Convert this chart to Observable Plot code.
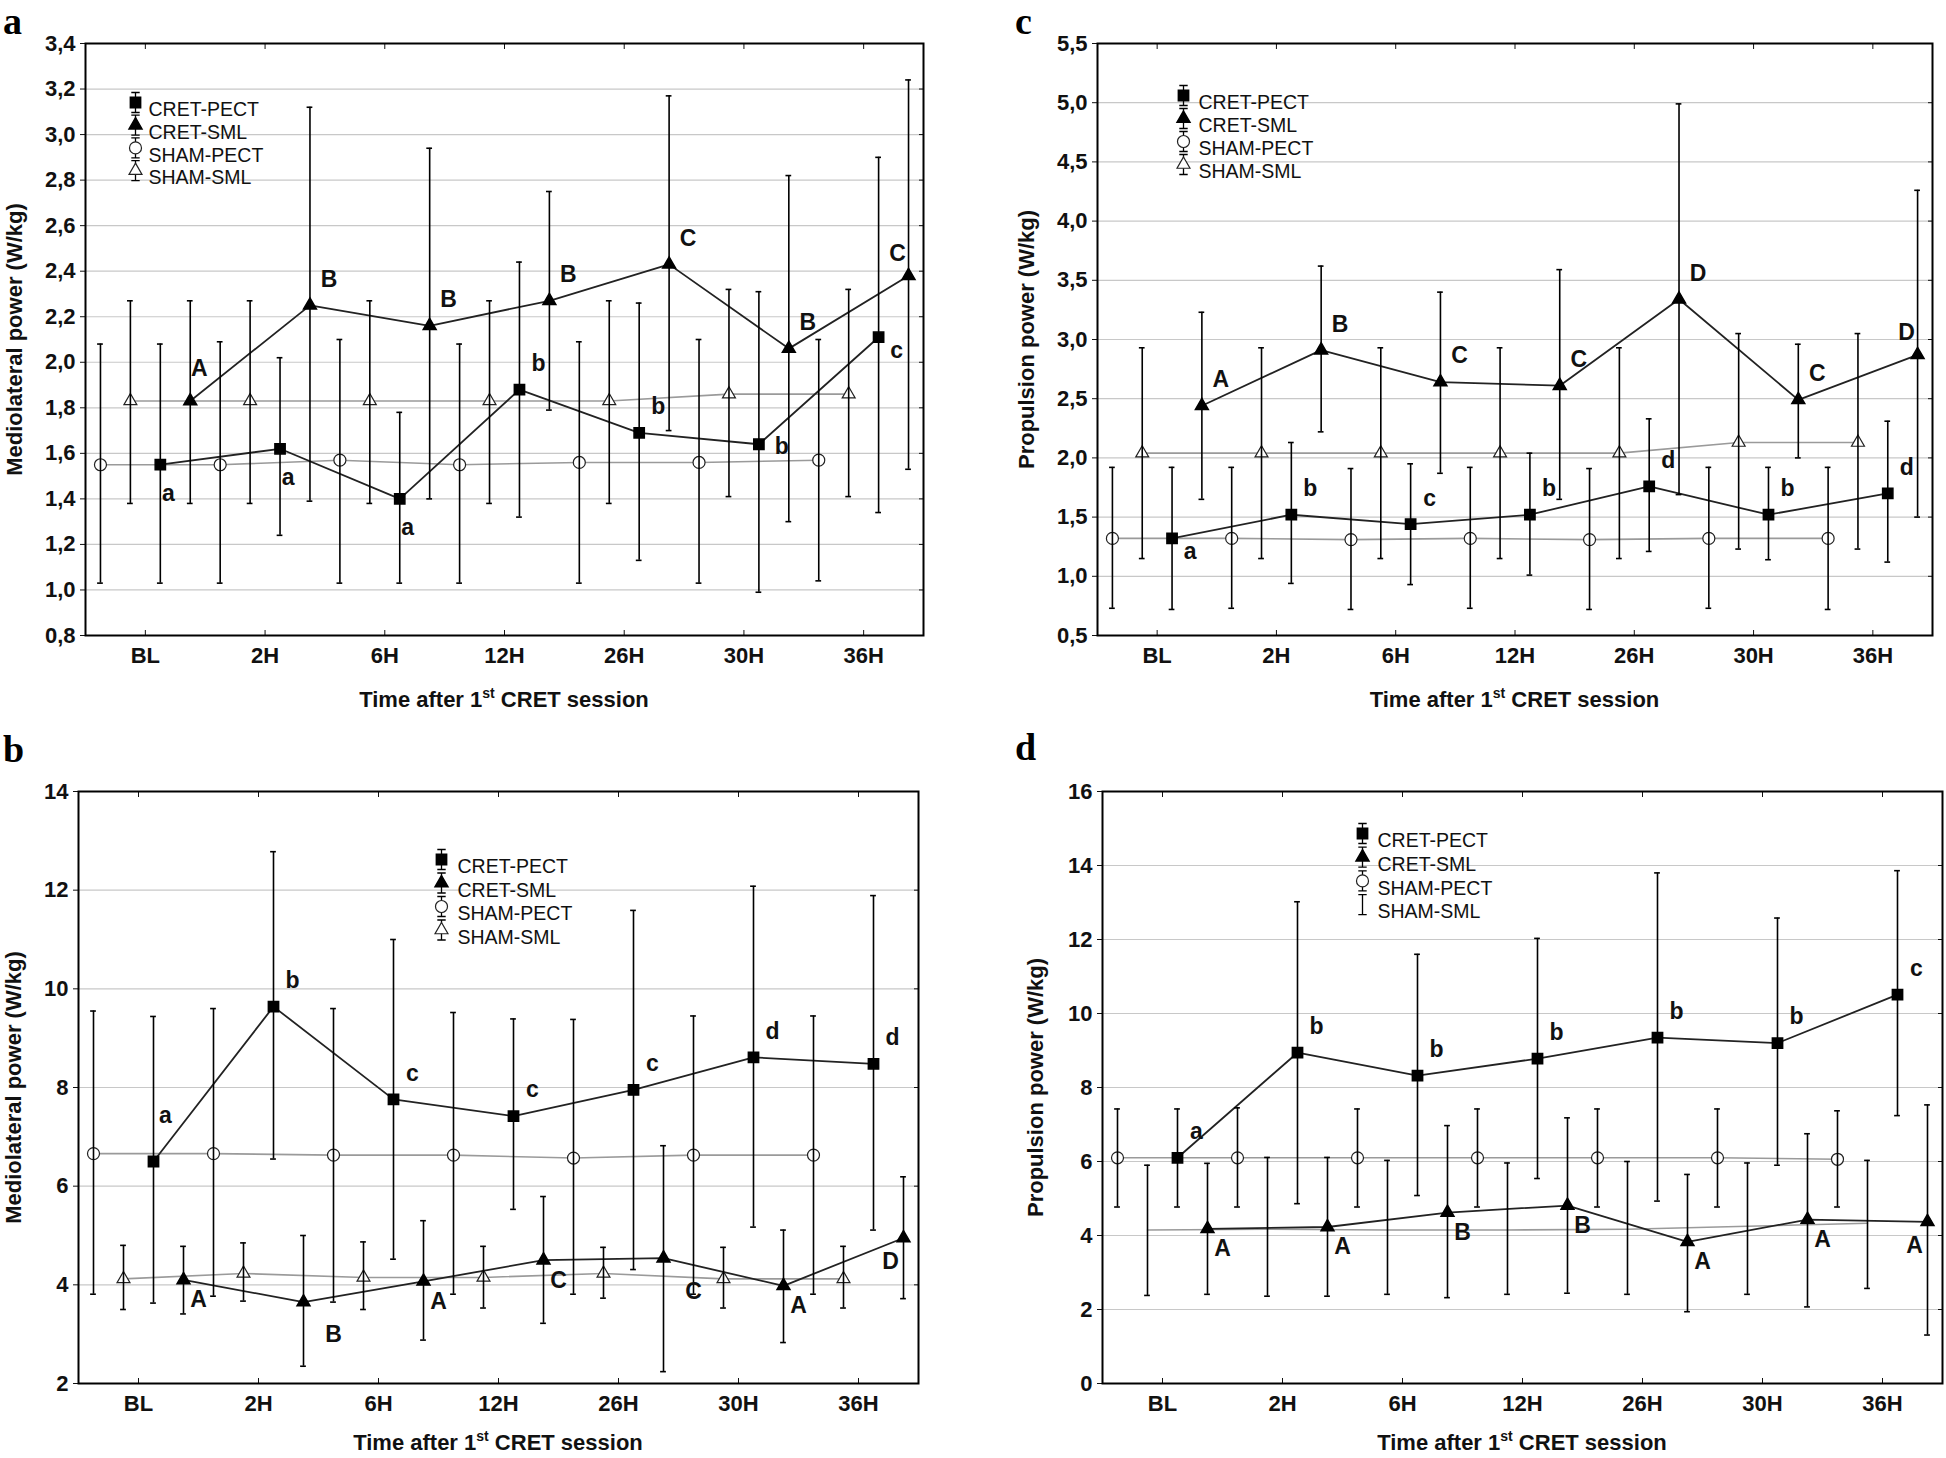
<!DOCTYPE html>
<html><head><meta charset="utf-8">
<script src="https://cdn.jsdelivr.net/npm/d3@7"></script>
<script src="https://cdn.jsdelivr.net/npm/@observablehq/plot@0.6"></script>
<style>
body{margin:0;background:#fff}
#fig{position:relative;width:1946px;height:1458px;overflow:hidden;background:#fff}
.panel{position:absolute}
</style>
</head><body><div id="fig"></div>
<script>
// ---------- categories ----------
const times = ["BL","2H","6H","12H","26H","30H","36H"];
const groups = ["SHAM-PECT","SHAM-SML","CRET-PECT","CRET-SML"];
const legendOrder = ["CRET-PECT","CRET-SML","SHAM-PECT","SHAM-SML"];

// ---------- panel a : Mediolateral power (W/kg) ----------
const aTicks = [0.8,1.0,1.2,1.4,1.6,1.8,2.0,2.2,2.4,2.6,2.8,3.0,3.2,3.4];
const aShamPect = [1.55,1.55,1.57,1.55,1.56,1.56,1.57];
const aShamPectHi = [2.08,2.09,2.10,2.08,2.09,2.10,2.10];
const aShamPectLo = [1.03,1.03,1.03,1.03,1.03,1.03,1.04];
const aShamSml = [1.83,1.83,1.83,1.83,1.83,1.86,1.86];
const aShamSmlHi = [2.27,2.27,2.27,2.27,2.27,2.32,2.32];
const aShamSmlLo = [1.38,1.38,1.38,1.38,1.38,1.41,1.41];
const aCretPect = [1.55,1.62,1.40,1.88,1.69,1.64,2.11];
const aCretPectHi = [2.08,2.02,1.78,2.44,2.26,2.31,2.90];
const aCretPectLo = [1.03,1.24,1.03,1.32,1.13,0.99,1.34];
const aCretSml = [1.83,2.25,2.16,2.27,2.43,2.06,2.38];
const aCretSmlHi = [2.27,3.12,2.94,2.75,3.17,2.82,3.24];
const aCretSmlLo = [1.38,1.39,1.40,1.79,1.70,1.30,1.53];
const aUpper = ["A","B","B","B","C","B","C"];
const aUpperPos = ["n","ne","ne","ne","ne","ne","nw"];
const aLower = ["a","a","a","b","b","b","c"];
const aLowerPos = ["s","s","s","ne","ne","e","ese"];

// ---------- panel c : Propulsion power (W/kg) ----------
const cTicks = [0.5,1.0,1.5,2.0,2.5,3.0,3.5,4.0,4.5,5.0,5.5];
const cShamPect = [1.32,1.32,1.31,1.32,1.31,1.32,1.32];
const cShamPectHi = [1.92,1.92,1.91,1.92,1.91,1.92,1.92];
const cShamPectLo = [0.73,0.73,0.72,0.73,0.72,0.73,0.72];
const cShamSml = [2.04,2.04,2.04,2.04,2.04,2.13,2.13];
const cShamSmlHi = [2.93,2.93,2.93,2.93,2.93,3.05,3.05];
const cShamSmlLo = [1.15,1.15,1.15,1.15,1.15,1.23,1.23];
const cCretPect = [1.32,1.52,1.44,1.52,1.76,1.52,1.70];
const cCretPectHi = [1.92,2.13,1.95,2.04,2.33,1.92,2.31];
const cCretPectLo = [0.72,0.94,0.93,1.01,1.21,1.14,1.12];
const cCretSml = [2.44,2.91,2.64,2.61,3.34,2.49,2.87];
const cCretSmlHi = [3.23,3.62,3.40,3.59,4.99,2.96,4.26];
const cCretSmlLo = [1.65,2.22,1.87,1.65,1.69,2.00,1.50];
const cUpper = ["A","B","C","C","D","C","D"];
const cUpperPos = ["ne","ne","ne","ne","ne","ne","nw"];
const cLower = ["a","b","c","b","d","b","d"];
const cLowerPos = ["ese","ne","ne","ne","ne","ne","ne"];

// ---------- panel b : Mediolateral power (W/kg) ----------
const bTicks = [2,4,6,8,10,12,14];
const bShamPect = [6.66,6.66,6.63,6.63,6.57,6.63,6.63];
const bShamPectHi = [9.55,9.60,9.60,9.52,9.38,9.45,9.45];
const bShamPectLo = [3.81,3.77,3.65,3.81,3.81,3.81,3.81];
const bShamSml = [4.12,4.23,4.15,4.15,4.23,4.12,4.12];
const bShamSmlHi = [4.80,4.85,4.87,4.78,4.76,4.76,4.78];
const bShamSmlLo = [3.50,3.67,3.50,3.53,3.73,3.53,3.53];
const bCretPect = [6.50,9.64,7.76,7.42,7.95,8.61,8.48];
const bCretPectHi = [9.44,12.78,11.00,9.39,11.59,12.08,11.89];
const bCretPectLo = [3.63,6.55,4.52,5.53,4.31,5.17,5.11];
const bCretSml = [4.10,3.65,4.07,4.50,4.54,3.98,4.95];
const bCretSmlHi = [4.78,5.00,5.30,5.79,6.82,5.11,6.19];
const bCretSmlLo = [3.41,2.35,2.88,3.22,2.24,2.83,3.72];
const bUpper = ["A","B","A","C","C","A","D"];
const bUpperPos = ["se","sse","se","se","sse","se","sw"];
const bLower = ["a","b","c","c","c","d","d"];
const bLowerPos = ["nn","ne","ne","ne","ne","ne","ne"];

// ---------- panel d : Propulsion power (W/kg) ----------
const dTicks = [0,2,4,6,8,10,12,14,16];
const dShamPect = [6.10,6.10,6.10,6.10,6.10,6.10,6.06];
const dShamPectHi = [7.42,7.45,7.42,7.42,7.42,7.42,7.37];
const dShamPectLo = [4.77,4.77,4.77,4.77,4.77,4.77,4.77];
const dShamSml = [4.15,4.17,4.15,4.15,4.17,4.25,4.33];
const dShamSmlHi = [5.90,6.11,6.03,5.96,6.00,5.96,6.03];
const dShamSmlLo = [2.38,2.36,2.41,2.41,2.41,2.41,2.57];
const dCretPect = [6.10,8.94,8.32,8.78,9.35,9.20,10.51];
const dCretPectHi = [7.42,13.02,11.60,12.03,13.80,12.58,13.86];
const dCretPectLo = [4.77,4.86,5.08,5.54,4.93,5.90,7.24];
const dCretSml = [4.18,4.23,4.62,4.81,3.83,4.43,4.37];
const dCretSmlHi = [5.95,6.11,6.97,7.18,5.65,6.75,7.53];
const dCretSmlLo = [2.41,2.36,2.32,2.44,1.94,2.07,1.31];
const dUpper = ["A","A","B","B","A","A","A"];
const dUpperPos = ["se","se","se","se","se","se","sw"];
const dLower = ["a","b","b","b","b","b","c"];
const dLowerPos = ["ne","ne","ne","ne","ne","ne","ne"];

// ---------- styling / layout ----------
const FONT = '"Liberation Sans", Arial, Helvetica, sans-serif';
const SERIF = '"Liberation Serif", "Times New Roman", serif';
const OFFSET = {"SHAM-PECT": -0.375, "SHAM-SML": -0.125, "CRET-PECT": 0.125, "CRET-SML": 0.375};
const CAP = 0.024;
const POS = {n:[9,-32], ne:[19,-26], nw:[-11,-22], nn:[12,-46], s:[8,29], se:[15,20], sse:[30,33], sw:[-13,24], e:[23,2], ese:[18,13]};
const MARK = {
  "CRET-PECT": {symbol:"square", fill:"#000", stroke:"#000", r:5.8},
  "CRET-SML": {symbol:"triangle", fill:"#000", stroke:"#000", r:4.8},
  "SHAM-PECT": {symbol:"circle", fill:"#fff", stroke:"#222", strokeWidth:1.2, r:6},
  "SHAM-SML": {symbol:"triangle", fill:"#fff", stroke:"#222", strokeWidth:1.2, r:4.8}
};
const errSymbol = {draw(ctx, size) {
  const r = Math.sqrt(size / Math.PI), c = r * 0.42;
  ctx.moveTo(0, -r); ctx.lineTo(0, r);
  ctx.moveTo(-c, -r); ctx.lineTo(c, -r);
  ctx.moveTo(-c, r); ctx.lineTo(c, r);
}};
const comma1 = d => d.toFixed(1).replace(".", ",");
const intFmt = d => String(d);
const TXT = 22;

const panels = [
  {tag:"a", tagX:3, tagBase:34, left:0, top:0, W:973, H:729, ml:85, mr:50, mt:43, mb:94, titleDy:72,
   ticks:aTicks, fmt:comma1, ylabel:"Mediolateral power (W/kg)", labelOffset:79,
   data:{"SHAM-PECT":[aShamPect,aShamPectHi,aShamPectLo],"SHAM-SML":[aShamSml,aShamSmlHi,aShamSmlLo],
         "CRET-PECT":[aCretPect,aCretPectHi,aCretPectLo],"CRET-SML":[aCretSml,aCretSmlHi,aCretSmlLo]},
   upper:[aUpper,aUpperPos], lower:[aLower,aLowerPos], legend:{dx:50, dy:59, step:22.7, tdx:63}, noMarker:[]},
  {tag:"c", tagX:42, tagBase:34, left:973, top:0, W:973, H:729, ml:124, mr:14, mt:43, mb:94, titleDy:72,
   ticks:cTicks, fmt:comma1, ylabel:"Propulsion power (W/kg)", labelOffset:79,
   data:{"SHAM-PECT":[cShamPect,cShamPectHi,cShamPectLo],"SHAM-SML":[cShamSml,cShamSmlHi,cShamSmlLo],
         "CRET-PECT":[cCretPect,cCretPectHi,cCretPectLo],"CRET-SML":[cCretSml,cCretSmlHi,cCretSmlLo]},
   upper:[cUpper,cUpperPos], lower:[cLower,cLowerPos], legend:{dx:86, dy:52, step:23, tdx:101}, noMarker:[]},
  {tag:"b", tagX:3, tagBase:33, left:0, top:729, W:973, H:729, ml:78, mr:55, mt:62, mb:75, titleDy:67,
   ticks:bTicks, fmt:intFmt, ylabel:"Mediolateral power (W/kg)", labelOffset:73,
   data:{"SHAM-PECT":[bShamPect,bShamPectHi,bShamPectLo],"SHAM-SML":[bShamSml,bShamSmlHi,bShamSmlLo],
         "CRET-PECT":[bCretPect,bCretPectHi,bCretPectLo],"CRET-SML":[bCretSml,bCretSmlHi,bCretSmlLo]},
   upper:[bUpper,bUpperPos], lower:[bLower,bLowerPos], legend:{dx:363, dy:68, step:23.5, tdx:379}, noMarker:[]},
  {tag:"d", tagX:42, tagBase:31, left:973, top:729, W:973, H:729, ml:129, mr:4, mt:62, mb:75, titleDy:67,
   ticks:dTicks, fmt:intFmt, ylabel:"Propulsion power (W/kg)", labelOffset:75,
   data:{"SHAM-PECT":[dShamPect,dShamPectHi,dShamPectLo],"SHAM-SML":[dShamSml,dShamSmlHi,dShamSmlLo],
         "CRET-PECT":[dCretPect,dCretPectHi,dCretPectLo],"CRET-SML":[dCretSml,dCretSmlHi,dCretSmlLo]},
   upper:[dUpper,dUpperPos], lower:[dLower,dLowerPos], legend:{dx:260, dy:42, step:23.7, tdx:275}, noMarker:["SHAM-SML"]}
];

const fig = document.getElementById("fig");

function build(p) {
  const rows = groups.flatMap(g => {
    const [m, hi, lo] = p.data[g];
    return m.map((v, i) => ({group:g, i, x:i + OFFSET[g], mean:v, hi:hi[i], lo:lo[i]}));
  });
  const caps = rows.flatMap(r => [{x1:r.x - CAP, x2:r.x + CAP, y:r.hi}, {x1:r.x - CAP, x2:r.x + CAP, y:r.lo}]);
  const letterRows = [];
  const addLetters = ([txt, pos], g) => {
    const m = p.data[g][0];
    txt.forEach((t, i) => letterRows.push({x:i + OFFSET[g], y:m[i], text:t, pos:pos[i]}));
  };
  addLetters(p.upper, "CRET-SML");
  addLetters(p.lower, "CRET-PECT");

  const marks = [
    Plot.gridY(p.ticks, {stroke:"#c8c8c8", strokeOpacity:1, strokeWidth:1.2}),
    Plot.line(rows.filter(r => r.group.startsWith("SHAM")), {x:"x", y:"mean", z:"group", stroke:"#9a9a9a", strokeWidth:1.6}),
    Plot.line(rows.filter(r => r.group.startsWith("CRET")), {x:"x", y:"mean", z:"group", stroke:"#222", strokeWidth:1.8})
  ];
  for (const g of ["SHAM-PECT","SHAM-SML"]) {
    if (!p.noMarker.includes(g)) marks.push(Plot.dot(rows.filter(r => r.group === g), {x:"x", y:"mean", ...MARK[g]}));
  }
  marks.push(
    Plot.ruleX(rows, {x:"x", y1:"lo", y2:"hi", stroke:"#000", strokeWidth:1.6}),
    Plot.ruleY(caps, {x1:"x1", x2:"x2", y:"y", stroke:"#000", strokeWidth:1.6})
  );
  for (const g of ["CRET-PECT","CRET-SML"]) {
    marks.push(Plot.dot(rows.filter(r => r.group === g), {x:"x", y:"mean", ...MARK[g]}));
  }
  for (const [code, [dx, dy]] of Object.entries(POS)) {
    const sub = letterRows.filter(r => r.pos === code);
    if (sub.length) marks.push(Plot.text(sub, {x:"x", y:"y", text:"text", dx, dy, fontSize:23, fontWeight:"bold", fill:"#111"}));
  }
  // legend (inside the frame)
  const L = p.legend;
  legendOrder.forEach((g, k) => {
    const dy = L.dy + k * L.step;
    marks.push(Plot.dot([g], {frameAnchor:"top-left", dx:L.dx, dy, symbol:errSymbol, r:10, stroke:"#000", strokeWidth:1.3, fill:"none"}));
    if (!p.noMarker.includes(g)) marks.push(Plot.dot([g], {frameAnchor:"top-left", dx:L.dx, dy, ...MARK[g]}));
    marks.push(Plot.text([g], {frameAnchor:"top-left", dx:L.tdx, dy, text:d => d, textAnchor:"start", fontSize:19.5, fontWeight:"normal", fill:"#111"}));
  });
  // axes
  marks.push(
    Plot.axisY({ticks:p.ticks, tickFormat:p.fmt, tickSize:5, tickPadding:5, label:p.ylabel, labelAnchor:"center", labelOffset:p.labelOffset, labelArrow:"none", fontSize:TXT, fontWeight:"bold"}),
    Plot.axisY({anchor:"right", ticks:p.ticks, tickSize:-5, tickFormat:() => "", label:null}),
    Plot.axisX({ticks:d3.range(times.length), tickFormat:i => times[i], tickSize:0, tickPadding:12, label:null, fontSize:TXT, fontWeight:"bold"}),
    Plot.axisX({ticks:d3.range(times.length), tickSize:-5, tickFormat:() => "", label:null}),
    Plot.axisX({anchor:"top", ticks:d3.range(times.length), tickSize:-5, tickFormat:() => "", label:null}),
    Plot.frame({stroke:"#000", strokeWidth:2})
  );

  const svg = Plot.plot({
    width:p.W, height:p.H, marginLeft:p.ml, marginRight:p.mr, marginTop:p.mt, marginBottom:p.mb,
    style:{fontFamily:FONT, fontSize:TXT + "px", color:"#111", background:"transparent", overflow:"visible"},
    x:{type:"linear", domain:[-0.5, times.length - 0.5]},
    y:{type:"linear", domain:[p.ticks[0], p.ticks[p.ticks.length - 1]]},
    marks
  });
  const sel = d3.select(svg);
  // x-axis title with superscript
  const t = sel.append("text")
    .attr("x", p.ml + (p.W - p.ml - p.mr) / 2)
    .attr("y", p.H - p.mb + p.titleDy)
    .attr("text-anchor", "middle")
    .attr("font-family", FONT).attr("font-size", TXT).attr("font-weight", "bold").attr("fill", "#111");
  t.append("tspan").text("Time after 1");
  t.append("tspan").attr("font-size", 14).attr("dy", -9).text("st");
  t.append("tspan").attr("dy", 9).text(" CRET session");
  // panel tag
  sel.append("text")
    .attr("x", p.tagX).attr("y", p.tagBase)
    .attr("text-anchor", "start")
    .attr("font-family", SERIF).attr("font-size", 38).attr("font-weight", "bold").attr("fill", "#000")
    .text(p.tag);

  const wrap = document.createElement("div");
  wrap.className = "panel";
  wrap.style.left = p.left + "px";
  wrap.style.top = p.top + "px";
  wrap.appendChild(svg);
  fig.appendChild(wrap);
}
panels.forEach(build);
</script>
</body></html>
